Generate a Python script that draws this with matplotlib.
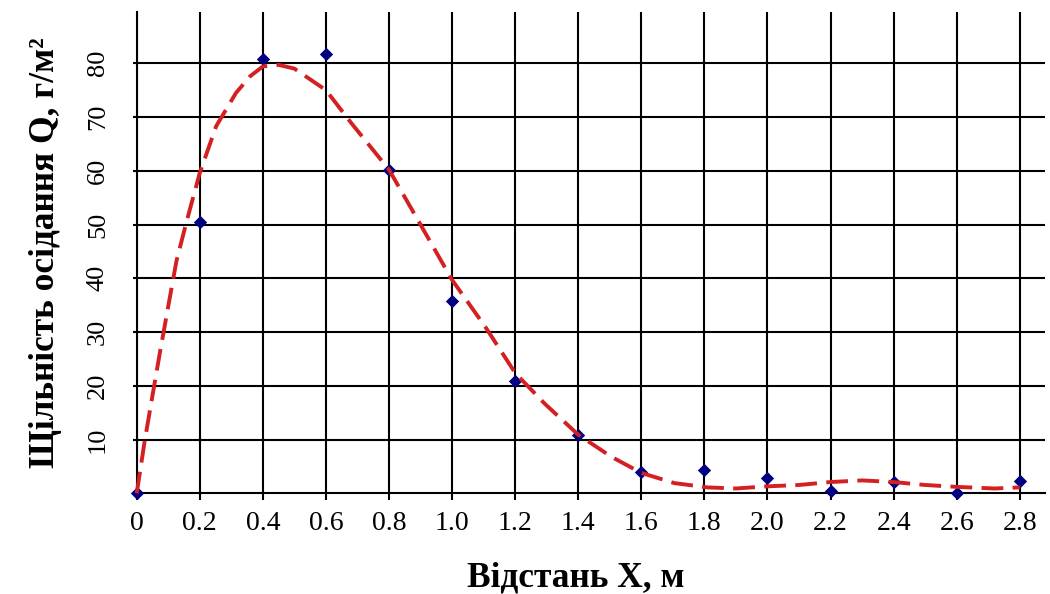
#!/usr/bin/env python3
# -*- coding: utf-8 -*-
"""Deposition density Q vs distance X: measured points + fitted dashed curve."""

import matplotlib
matplotlib.use("Agg")
import matplotlib.pyplot as plt

x_obs = [0.0, 0.2, 0.4, 0.6, 0.8, 1.0, 1.2, 1.4, 1.6, 1.8, 2.0, 2.2, 2.4, 2.6, 2.8]
q_obs = [0.0, 50.5, 80.8, 81.8, 60.2, 35.7, 20.8, 10.9, 3.9, 4.3, 2.8, 0.4, 2.1, 0.0, 2.3]

# fitted curve, traced point by point
x_fit = [0.0, 0.026, 0.053, 0.073, 0.10, 0.126, 0.157, 0.20, 0.252, 0.315, 0.36,
         0.40, 0.45, 0.50, 0.535, 0.60, 0.68, 0.80, 0.89, 1.0, 1.105, 1.2, 1.295,
         1.4, 1.505, 1.6, 1.705, 1.81, 1.9, 2.0, 2.1, 2.2, 2.3, 2.4, 2.5, 2.6,
         2.72, 2.8]
q_fit = [0.0, 10.0, 19.2, 26.0, 34.8, 43.2, 50.3, 59.6, 68.3, 74.5, 77.6,
         79.4, 79.7, 79.0, 77.6, 75.0, 68.9, 60.2, 51.0, 39.7, 31.0, 22.4, 16.6,
         10.9, 6.8, 3.8, 1.9, 1.1, 0.9, 1.3, 1.55, 2.1, 2.4, 2.1, 1.55, 1.2,
         0.9, 1.1]

x_ticks = [0.0, 0.2, 0.4, 0.6, 0.8, 1.0, 1.2, 1.4, 1.6, 1.8, 2.0, 2.2, 2.4, 2.6, 2.8]
x_tick_labels = ["0", "0.2", "0.4", "0.6", "0.8", "1.0", "1.2", "1.4", "1.6",
                 "1.8", "2.0", "2.2", "2.4", "2.6", "2.8"]
y_ticks = [10, 20, 30, 40, 50, 60, 70, 80]


def main() -> None:
    plt.rcParams.update({"font.family": ["Liberation Serif", "DejaVu Serif"]})

    fig = plt.figure(figsize=(10.5, 5.94), dpi=100)
    ax = fig.add_axes([0.1302, 0.1695, 0.865, 0.81])

    ax.scatter(x_obs, q_obs, marker="D", s=46, color="#000080", zorder=3,
               clip_on=False, linewidths=0)
    ax.plot(x_fit, q_fit, color="#d42020", lw=2.8, ls=(0, (5.6, 2.4)),
            zorder=4, clip_on=False)

    ax.set_xlim(0.0, 2.88)
    ax.set_ylim(0.0, 89.5)
    ax.set_xticks(x_ticks)
    ax.set_xticklabels(x_tick_labels)
    ax.set_yticks(y_ticks)
    ax.set_yticklabels([str(v) for v in y_ticks], rotation=90, va="center")

    ax.grid(True, color="black", lw=1.5)
    ax.set_axisbelow(True)
    for s in ("top", "right"):
        ax.spines[s].set_visible(False)
    for s in ("left", "bottom"):
        ax.spines[s].set_linewidth(1.5)
        ax.spines[s].set_color("black")

    ax.tick_params(axis="x", direction="out", length=5, width=1.5,
                   labelsize=20, pad=8, colors="black")
    ax.tick_params(axis="y", direction="out", length=3, width=1.5,
                   labelsize=19, pad=17, colors="black")

    ax.set_xlabel("Відстань X, м", fontsize=25.5, fontweight="bold", labelpad=18)
    ax.set_ylabel("Щільність осідання Q, г/м²", fontsize=25.5, fontweight="bold",
                  labelpad=18)
    ax.xaxis.label.set_x(0.4835)

    fig.savefig("out.png", dpi=100)
    plt.close(fig)


if __name__ == "__main__":
    main()
